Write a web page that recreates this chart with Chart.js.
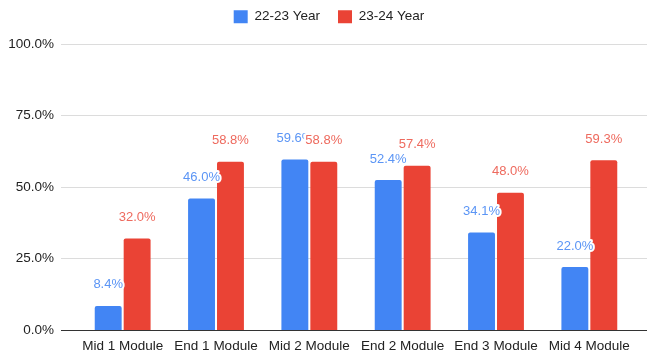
<!DOCTYPE html>
<html>
<head>
<meta charset="utf-8">
<script src="https://cdn.jsdelivr.net/npm/chart.js@4.4.0/dist/chart.umd.min.js"></script>
<style>
  html, body { margin: 0; padding: 0; background: #fff; }
  #wrap { width: 647px; height: 360px; position: relative; }
</style>
</head>
<body>
<div id="wrap"><canvas id="c"></canvas></div>
<script>
const categories = ["Mid 1 Module", "End 1 Module", "Mid 2 Module", "End 2 Module", "End 3 Module", "Mid 4 Module"];
const seriesNames = ["22-23 Year", "23-24 Year"];
const year2223 = [8.4, 46.0, 59.6, 52.4, 34.1, 22.0];
const year2324 = [32.0, 58.8, 58.8, 57.4, 48.0, 59.3];
const yTicks = [0, 25, 50, 75, 100];

const barColors = ["#4285F4", "#EA4335"];
const labelColors = ["#5B95F5", "#EE6A5E"];
const FONT = "'Liberation Sans', Arial, sans-serif";

// extra gap below the legend, and horizontal nudge of the legend
const legendTweak = {
  id: "legendTweak",
  beforeInit(chart) {
    const orig = chart.legend.fit;
    chart.legend.fit = function () {
      orig.bind(chart.legend)();
      this.height += 10.5;
    };
  },
  afterLayout(chart) {
    chart.legend.left += 10;
    chart.legend.right += 10;
  }
};

// gridlines spanning the full width like the original
const wideGrid = {
  id: "wideGrid",
  beforeDatasetsDraw(chart) {
    const ctx = chart.ctx;
    const y = chart.scales.y;
    const x0 = 61, x1 = chart.width;
    ctx.save();
    yTicks.forEach(v => {
      const py = Math.round(y.getPixelForValue(v)) + 0.5;
      ctx.beginPath();
      ctx.strokeStyle = v === 0 ? "#333" : "#dcdcdc";
      ctx.lineWidth = 1;
      ctx.moveTo(x0, py);
      ctx.lineTo(x1, py);
      ctx.stroke();
    });
    ctx.restore();
  }
};

const valueLabels = {
  id: "valueLabels",
  afterDatasetsDraw(chart) {
    const ctx = chart.ctx;
    ctx.save();
    ctx.font = "13px " + FONT;
    ctx.textAlign = "center";
    ctx.textBaseline = "middle";
    ctx.lineJoin = "round";
    chart.data.datasets.forEach((ds, di) => {
      const meta = chart.getDatasetMeta(di);
      meta.data.forEach((bar, i) => {
        const txt = ds.data[i].toFixed(1) + "%";
        const y = bar.y - 21;
        ctx.strokeStyle = "#fff";
        ctx.lineWidth = 4;
        ctx.strokeText(txt, bar.x, y);
        ctx.fillStyle = labelColors[di];
        ctx.fillText(txt, bar.x, y);
      });
    });
    ctx.restore();
  }
};

new Chart(document.getElementById("c"), {
  type: "bar",
  data: {
    labels: categories,
    datasets: [
      { label: seriesNames[0], data: year2223, backgroundColor: barColors[0], borderRadius: 2, borderSkipped: "bottom" },
      { label: seriesNames[1], data: year2324, backgroundColor: barColors[1], borderRadius: 2, borderSkipped: "bottom" }
    ]
  },
  options: {
    responsive: true,
    maintainAspectRatio: false,
    animation: false,
    layout: { padding: { left: 2, right: 11, top: -8, bottom: 0 } },
    datasets: { bar: { categoryPercentage: 0.62, barPercentage: 0.93 } },
    plugins: {
      legend: {
        position: "top",
        labels: {
          boxWidth: 14, boxHeight: 13, padding: 18,
          color: "#222",
          font: { family: FONT, size: 13.5 }
        }
      },
      tooltip: { enabled: false }
    },
    scales: {
      x: {
        afterFit(axis) { axis.height -= 7.1; },
        grid: { display: false, drawTicks: false },
        border: { display: false },
        ticks: { color: "#222", font: { family: FONT, size: 13.5 }, padding: 8.5, maxRotation: 0, autoSkip: false }
      },
      y: {
        min: 0, max: 100,
        afterBuildTicks(axis) { axis.ticks = yTicks.map(v => ({ value: v })); },
        afterFit(axis) { axis.width = 74; },
        grid: { display: false, drawTicks: false },
        border: { display: false },
        ticks: {
          color: "#222", font: { family: FONT, size: 13.5 }, padding: 22,
          callback: v => v.toFixed(1) + "%"
        }
      }
    }
  },
  plugins: [legendTweak, wideGrid, valueLabels]
});
</script>
</body>
</html>
